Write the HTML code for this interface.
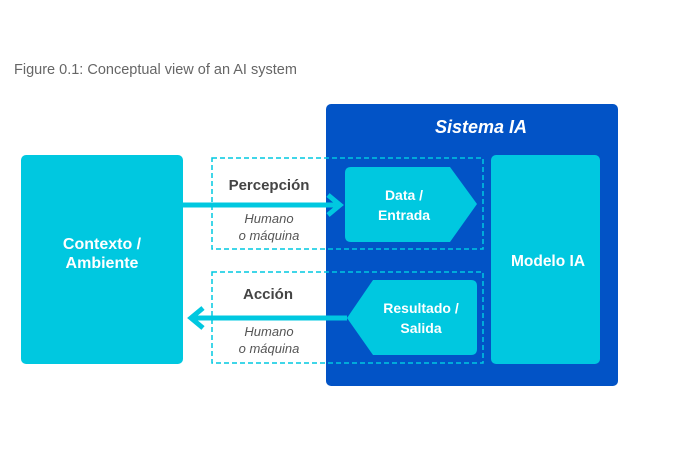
<!DOCTYPE html>
<html><head><meta charset="utf-8"><style>
html,body{margin:0;padding:0;background:#fff;width:690px;height:460px;overflow:hidden}
svg{display:block}
</style></head><body>
<svg width="690" height="460" viewBox="0 0 690 460" xmlns="http://www.w3.org/2000/svg" font-family="Liberation Sans, sans-serif">
<text x="14" y="74" font-size="14.5" fill="#666">Figure 0.1: Conceptual view of an AI system</text>
<rect x="326" y="104" width="292" height="282" rx="5" fill="#0253c6"/>
<text x="481" y="133" font-size="18" font-weight="bold" font-style="italic" fill="#fff" text-anchor="middle">Sistema IA</text>
<rect x="21" y="155" width="162" height="209" rx="5" fill="#00c8e0"/>
<text x="102" y="249" font-size="16" font-weight="bold" fill="#fff" text-anchor="middle">Contexto /</text>
<text x="102" y="268" font-size="16" font-weight="bold" fill="#fff" text-anchor="middle">Ambiente</text>
<rect x="491" y="155" width="109" height="209" rx="5" fill="#00c8e0"/>
<text x="548" y="266" font-size="15.5" font-weight="bold" fill="#fff" text-anchor="middle">Modelo IA</text>
<rect x="212" y="158" width="271" height="91" fill="none" stroke="#00c8e0" stroke-width="1.5" stroke-dasharray="5,3"/>
<rect x="212" y="272" width="271" height="91" fill="none" stroke="#00c8e0" stroke-width="1.5" stroke-dasharray="5,3"/>
<path d="M351,167 H450 L477,204 L450,242 H351 Q345,242 345,236 V173 Q345,167 351,167 Z" fill="#00c8e0"/>
<text x="404" y="200" font-size="14" font-weight="bold" fill="#fff" text-anchor="middle">Data /</text>
<text x="404" y="220" font-size="14" font-weight="bold" fill="#fff" text-anchor="middle">Entrada</text>
<path d="M373,280 H471 Q477,280 477,286 V349 Q477,355 471,355 H373 L347,318 Z" fill="#00c8e0"/>
<text x="421" y="313" font-size="14" font-weight="bold" fill="#fff" text-anchor="middle">Resultado /</text>
<text x="421" y="333" font-size="14" font-weight="bold" fill="#fff" text-anchor="middle">Salida</text>
<line x1="183" y1="205" x2="338" y2="205" stroke="#00c8e0" stroke-width="5"/>
<polyline points="328,195 340,205 328,215" fill="none" stroke="#00c8e0" stroke-width="5"/>
<line x1="347" y1="318" x2="194" y2="318" stroke="#00c8e0" stroke-width="5"/>
<polyline points="203,308 191,318 203,328" fill="none" stroke="#00c8e0" stroke-width="5"/>
<text x="269" y="190" font-size="15" font-weight="bold" fill="#444" text-anchor="middle">Percepción</text>
<text x="269" y="223" font-size="13" font-style="italic" fill="#555" text-anchor="middle">Humano</text>
<text x="269" y="240" font-size="13" font-style="italic" fill="#555" text-anchor="middle">o máquina</text>
<text x="268" y="299" font-size="15" font-weight="bold" fill="#444" text-anchor="middle">Acción</text>
<text x="269" y="336" font-size="13" font-style="italic" fill="#555" text-anchor="middle">Humano</text>
<text x="269" y="353" font-size="13" font-style="italic" fill="#555" text-anchor="middle">o máquina</text>
</svg>
</body></html>
